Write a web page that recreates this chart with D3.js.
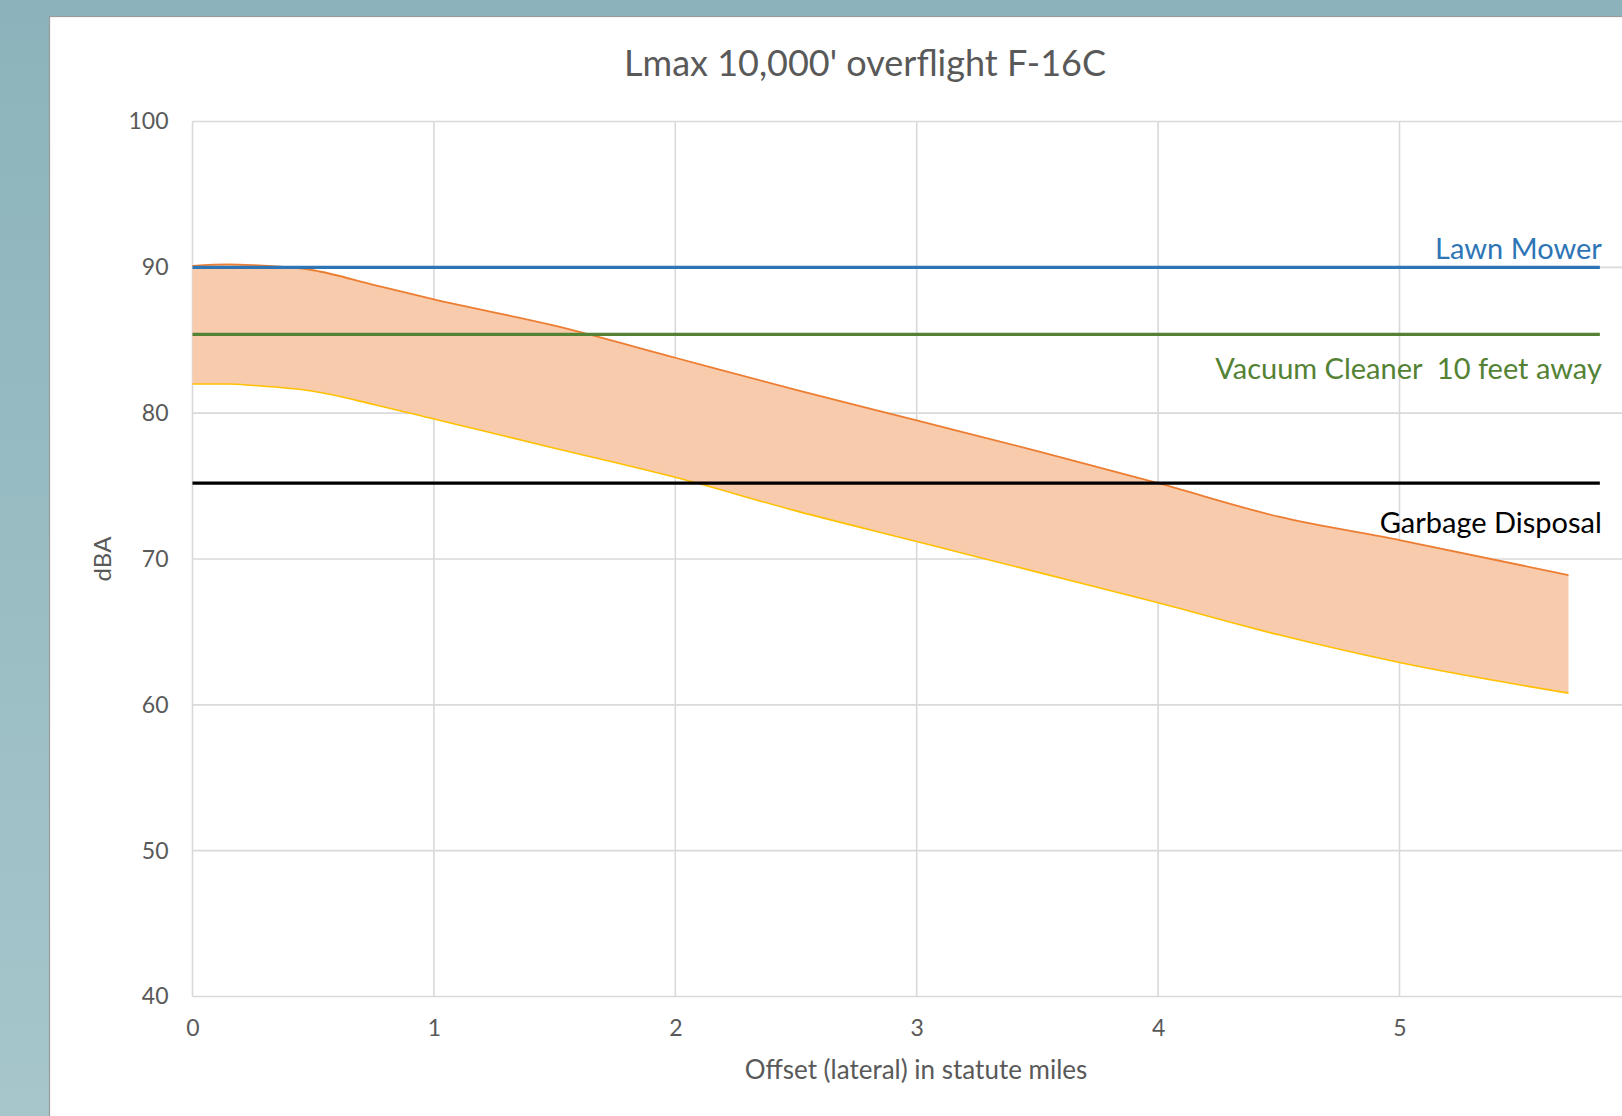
<!DOCTYPE html>
<html>
<head>
<meta charset="utf-8">
<script src="https://cdn.jsdelivr.net/npm/d3@7"></script>
<style>
  body { margin: 0; overflow: hidden; }
  text { font-family: Lato, 'Open Sans', sans-serif; }
</style>
</head>
<body>
<div class="chart"></div>
<script>
// offset in statute miles, and the upper / lower Lmax envelope (dBA)
let offsets = [0, 0.15, 0.25, 0.5, 0.75, 1, 1.5, 2, 2.5, 3, 3.5, 4, 4.5, 5, 5.7];
let upperLmax = [90.1, 90.2, 90.15, 89.8, 88.8, 87.8, 86.0, 83.8, 81.6, 79.5, 77.4, 75.2, 72.9, 71.3, 68.9];
let lowerLmax = [82.0, 82.0, 81.9, 81.5, 80.6, 79.6, 77.6, 75.6, 73.3, 71.2, 69.1, 67.0, 64.8, 62.9, 60.8];

// reference noise levels
let refNames = ['Lawn Mower', 'Vacuum Cleaner  10 feet away', 'Garbage Disposal'];
let refLevels = [90, 85.4, 75.2];
let refExtent = [0, 5.83];

let xTicks = [0, 1, 2, 3, 4, 5];
let yTicks = [40, 50, 60, 70, 80, 90, 100];

let config = {
  width: 1622,
  height: 1116,
  left: 192.5,
  top: 121.5,
  bottom: 996.5,
  mileWidth: 241.4,
  refColors: ['#2e75b6', '#548235', '#000000'],
  labelDy: [-8, 45, 50],
  textColor: '#595959',
  gridColor: '#d9d9d9'
};

let svg = d3.select('div.chart').append('svg')
  .attr('width', config.width)
  .attr('height', config.height);

let defs = svg.append('defs');
let grad = defs.append('linearGradient')
  .attr('id', 'bg').attr('x1', 0).attr('y1', 0).attr('x2', 0).attr('y2', 1);
grad.append('stop').attr('offset', '0%').attr('stop-color', '#8cb3bb');
grad.append('stop').attr('offset', '100%').attr('stop-color', '#a6c6cb');

svg.append('rect')
  .attr('width', config.width).attr('height', config.height)
  .attr('fill', 'url(#bg)');

svg.append('rect')
  .attr('x', 49.5).attr('y', 16.5)
  .attr('width', config.width).attr('height', config.height)
  .attr('fill', '#fff')
  .attr('stroke', '#9a9a9a')
  .attr('stroke-width', 1.2);

let x = d3.scaleLinear()
  .domain([0, 6])
  .range([config.left, config.left + 6 * config.mileWidth]);

let y = d3.scaleLinear()
  .domain([40, 100])
  .range([config.bottom, config.top]);

let plotRight = config.width + 10;

// gridlines
let grid = svg.append('g');
grid.selectAll('.hgrid')
  .data(yTicks)
  .enter().append('line')
  .attr('x1', config.left).attr('x2', plotRight)
  .attr('y1', d => y(d)).attr('y2', d => y(d))
  .attr('stroke', config.gridColor)
  .attr('stroke-width', 1.6);

grid.selectAll('.vgrid')
  .data(xTicks)
  .enter().append('line')
  .attr('x1', d => x(d)).attr('x2', d => x(d))
  .attr('y1', config.top).attr('y2', config.bottom)
  .attr('stroke', config.gridColor)
  .attr('stroke-width', 1.6);

// tick labels via axes
let yAxis = svg.append('g')
  .attr('transform', 'translate(' + config.left + ',0)')
  .call(d3.axisLeft(y).tickValues(yTicks).tickSize(0).tickPadding(24));
let xAxis = svg.append('g')
  .attr('transform', 'translate(0,' + config.bottom + ')')
  .call(d3.axisBottom(x).tickValues(xTicks).tickFormat(d3.format('d')).tickSize(0).tickPadding(23));

[yAxis, xAxis].forEach(function(ax) {
  ax.select('.domain').remove();
  ax.selectAll('text')
    .attr('fill', config.textColor)
    .style('font-size', '23px');
});

// envelope
let area = d3.area()
  .x((d, i) => x(offsets[i]))
  .y0((d, i) => y(lowerLmax[i]))
  .y1(d => y(d))
  .curve(d3.curveMonotoneX);

svg.append('path')
  .attr('d', area(upperLmax))
  .attr('fill', '#f8cbad');

let line = d3.line()
  .x((d, i) => x(offsets[i]))
  .y(d => y(d))
  .curve(d3.curveMonotoneX);

svg.append('path')
  .attr('d', line(lowerLmax))
  .attr('fill', 'none')
  .attr('stroke', '#ffc000')
  .attr('stroke-width', 1.6);

svg.append('path')
  .attr('d', line(upperLmax))
  .attr('fill', 'none')
  .attr('stroke', '#ed7d31')
  .attr('stroke-width', 1.8);

// reference lines
let refs = svg.selectAll('.ref')
  .data(refLevels)
  .enter().append('g');

refs.append('line')
  .attr('x1', x(refExtent[0])).attr('x2', x(refExtent[1]))
  .attr('y1', d => y(d)).attr('y2', d => y(d))
  .attr('stroke', (d, i) => config.refColors[i])
  .attr('stroke-width', 3.2);

refs.append('text')
  .attr('x', x(refExtent[1]) + 2)
  .attr('y', (d, i) => y(d) + config.labelDy[i])
  .attr('text-anchor', 'end')
  .attr('fill', (d, i) => config.refColors[i])
  .style('font-size', '29px')
  .style('white-space', 'pre')
  .text((d, i) => refNames[i]);

// titles
svg.append('text')
  .attr('x', 865).attr('y', 76)
  .attr('text-anchor', 'middle')
  .attr('fill', config.textColor)
  .style('font-size', '36px')
  .text("Lmax 10,000' overflight F-16C");

svg.append('text')
  .attr('x', 916).attr('y', 1079)
  .attr('text-anchor', 'middle')
  .attr('fill', config.textColor)
  .style('font-size', '26px')
  .text('Offset (lateral) in statute miles');

svg.append('text')
  .attr('transform', 'translate(111,' + ((config.top + config.bottom) / 2) + ') rotate(-90)')
  .attr('text-anchor', 'middle')
  .attr('fill', config.textColor)
  .style('font-size', '24px')
  .text('dBA');
</script>
</body>
</html>
